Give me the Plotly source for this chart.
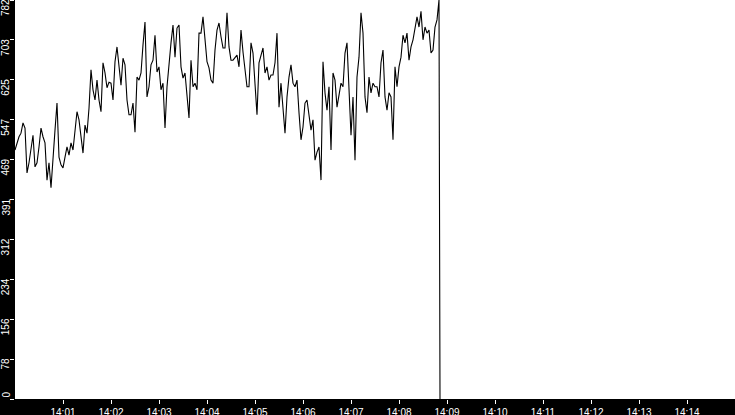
import plotly.graph_objects as go
import pandas as pd

# readings every 2.5 s from 14:00:00
values = [
    488, 502, 514, 521, 541, 531, 443, 463, 488, 517,
    455, 463, 494, 531, 514, 502, 429, 463, 414, 482,
    527, 580, 474, 459, 453, 474, 494, 478, 502, 488,
    521, 563, 547, 508, 482, 537, 521, 570, 645, 606,
    586, 625, 586, 563, 659, 639, 610, 621, 619, 586,
    661, 690, 645, 615, 668,
    655, 586, 557, 557, 580, 523, 631, 625, 639, 694,
    739, 592, 612, 655, 664, 713, 641, 651, 606, 619,
    531, 612, 659, 698, 733, 670, 727, 733, 651, 629,
    639, 590, 551, 664, 612, 619, 606, 717, 717, 749,
    710, 661, 649, 625, 619, 684, 723, 737, 710, 688,
    688, 757, 690,
    664, 664, 668, 674, 651, 723, 680, 651, 612, 612,
    698, 678, 625, 557, 659, 674, 688, 639, 651, 625,
    635, 635, 659, 717, 572, 619, 561, 521, 592, 631,
    655, 619, 612, 625, 561, 508, 533, 580, 586, 561,
    527, 547, 468, 484, 494, 429, 661, 600, 566, 612,
    488, 639,
    625, 572, 592, 619, 612, 678, 698, 619, 517, 592,
    468, 631, 670, 757, 717, 592, 561, 631, 600, 619,
    612, 612, 592, 659, 684, 592, 566, 600, 592, 508,
    651, 612, 651, 670, 713, 698, 717, 664, 690, 704,
    723, 749, 729, 760, 704, 729, 717, 723, 678, 684,
    729, 743, 782,
]
drop_time = "2024-01-01 14:08:51.25"
drop_value = 0

y_ticks = [0, 78, 156, 234, 312, 391, 469, 547, 625, 703, 782]
x_ticks = ["14:01", "14:02", "14:03", "14:04", "14:05", "14:06", "14:07",
           "14:08", "14:09", "14:10", "14:11", "14:12", "14:13", "14:14"]

times = list(pd.date_range("2024-01-01 14:00:00", periods=len(values), freq="2500ms"))
times.append(pd.Timestamp(drop_time))
ys = values + [drop_value]

fig = go.Figure()
fig.add_trace(go.Scatter(x=times, y=ys, mode="lines",
                         line=dict(color="black", width=1.1), hoverinfo="skip"))

ymax = max(y_ticks)
tick_pos = [ymax * i / 10 for i in range(11)]

annotations = []
for v, lab in zip(tick_pos, y_ticks):
    annotations.append(dict(
        x=0, xref="paper", y=v, yref="y",
        text=str(lab), showarrow=False, textangle=-90,
        xanchor="right", yanchor="bottom" if v == 0 else "top",
        xshift=-3, yshift=2 if v > 0 else 0,
        font=dict(color="white", size=10, family="Liberation Sans"),
        borderpad=0,
    ))

fig.update_layout(
    width=735, height=415,
    margin=dict(l=15, r=0, t=0, b=16, autoexpand=False),
    paper_bgcolor="black",
    plot_bgcolor="white",
    showlegend=False,
    annotations=annotations,
    xaxis=dict(
        type="date",
        range=["2024-01-01 14:00:00", "2024-01-01 14:15:00"],
        tickvals=["2024-01-01 " + t for t in x_ticks],
        ticktext=x_ticks,
        automargin=False,
        showgrid=False, zeroline=False,
        ticks="outside", ticklen=4, tickcolor="white", tickwidth=1,
        ticklabelstandoff=0,
        tickfont=dict(color="white", size=10, family="Liberation Sans"),
    ),
    yaxis=dict(
        range=[0, ymax],
        tickvals=tick_pos,
        showticklabels=False,
        automargin=False,
        showgrid=False, zeroline=False,
        ticks="outside", ticklen=4, tickcolor="white", tickwidth=1,
    ),
)

fig.write_html("out.html",
               config={"displayModeBar": False},
               post_script="document.body.style.margin='0';"
                           "document.body.style.background='black';")
